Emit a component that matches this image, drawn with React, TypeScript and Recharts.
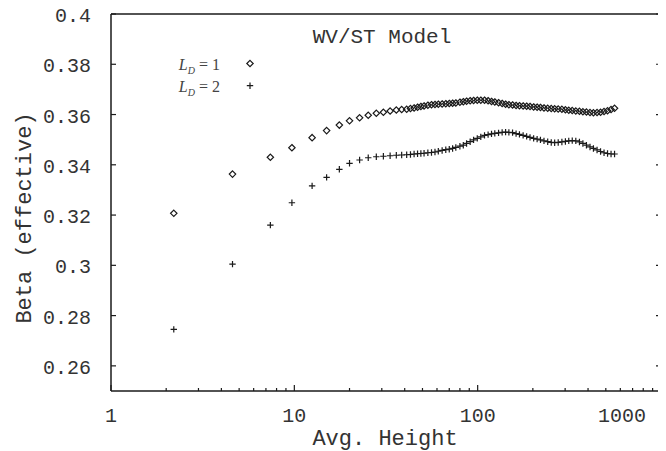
import React from 'react';
import { ScatterChart, Scatter, XAxis, YAxis } from 'recharts';

// avg. height values (x)
const heights = [
  2.2, 4.6, 7.4, 9.7, 12.5, 15, 17.6, 20, 22.7, 25.3, 28, 30.6, 33.3, 36, 38.5,
  41, 43, 45, 47, 49, 51, 53.5, 56, 58.5, 61, 64, 67, 70, 73, 76, 80, 83.5, 87, 91, 95,
  99.5, 104, 109, 114, 119, 124, 130, 136, 142, 148, 155, 162, 169, 177, 185, 193, 202,
  211, 220, 230, 241, 252, 263, 275, 288, 301, 314, 328, 343, 359, 375, 392, 410, 428,
  448, 468, 489, 511, 534, 558,
];

// L_D = 1 (diamonds)
const betaLd1 = [
  0.3207, 0.3363, 0.343, 0.3468, 0.3508, 0.3536, 0.3558, 0.3575, 0.3587, 0.3597, 0.3605,
  0.3609, 0.3614, 0.3618, 0.362,
  0.3621, 0.3624, 0.3626, 0.3629, 0.3632, 0.3634, 0.3637, 0.3639, 0.364, 0.3641,
  0.3642, 0.3643, 0.3644, 0.3645, 0.3646, 0.3649, 0.3651, 0.3653, 0.3655, 0.3656,
  0.3657, 0.3657, 0.3657, 0.3655, 0.3652, 0.365, 0.3647, 0.3644, 0.3641, 0.3639,
  0.3638, 0.3636, 0.3635, 0.3634, 0.3633, 0.3632, 0.363, 0.3629, 0.3628, 0.3626,
  0.3625, 0.3624, 0.3623, 0.3622, 0.3621, 0.3619, 0.3617, 0.3616, 0.3614, 0.3613,
  0.3611, 0.361, 0.3608, 0.3607, 0.3608, 0.3609, 0.3612, 0.3615, 0.362, 0.3625,
];

// L_D = 2 (pluses)
const betaLd2 = [
  0.2745, 0.3005, 0.316, 0.3249, 0.3316, 0.335, 0.3382, 0.3406, 0.3419, 0.3428, 0.3432,
  0.3434, 0.3436, 0.3438, 0.3439,
  0.344, 0.3441, 0.3443, 0.3444, 0.3445, 0.3446, 0.3448, 0.3449, 0.3451, 0.3454,
  0.3457, 0.346, 0.3462, 0.3465, 0.3469, 0.3474, 0.3478, 0.3485, 0.3492, 0.3499,
  0.3505, 0.3511, 0.3517, 0.352, 0.3523, 0.3525, 0.3527, 0.3529, 0.353, 0.3529,
  0.3528, 0.3524, 0.3521, 0.3517, 0.3513, 0.3509, 0.3505, 0.3502, 0.3499, 0.3495,
  0.3492, 0.3489, 0.3488, 0.3489, 0.3491, 0.3493, 0.3495, 0.3496, 0.3495, 0.3491,
  0.3485, 0.3478, 0.3471, 0.3465, 0.3459, 0.3453, 0.3448, 0.3445, 0.3443, 0.3443,
];

const xTicks = [
  1, 2, 3, 4, 5, 6, 7, 8, 9,
  10, 20, 30, 40, 50, 60, 70, 80, 90,
  100, 200, 300, 400, 500, 600, 700, 800, 900, 1000,
];
const xLabels = [1, 10, 100, 1000];
const yTicks = [0.26, 0.28, 0.3, 0.32, 0.34, 0.36, 0.38, 0.4];

const ld1Data = heights.map((h, i) => ({ h, beta: betaLd1[i] }));
const ld2Data = heights.map((h, i) => ({ h, beta: betaLd2[i] }));

const mono = '"Liberation Mono", "DejaVu Sans Mono", monospace';
const serif = '"Liberation Serif", "DejaVu Serif", serif';
const ink = '#1a1a1a';
const textInk = '#333';

const Diamond = ({ cx, cy }: any) => (
  <path
    d={`M${cx},${cy - 3.2}L${cx + 3.2},${cy}L${cx},${cy + 3.2}L${cx - 3.2},${cy}Z`}
    fill="none"
    stroke={ink}
    strokeWidth={1.2}
  />
);

const Plus = ({ cx, cy }: any) => (
  <path
    d={`M${cx - 3.2},${cy}H${cx + 3.2}M${cx},${cy - 3.2}V${cy + 3.2}`}
    stroke={ink}
    strokeWidth={1.2}
  />
);

const fmtY = (v: number) => String(parseFloat(v.toFixed(2)));

function BottomTick({ x, y, payload }: any) {
  const v = payload.value;
  const major = xLabels.includes(v);
  // the 1000 label sits left of its tick in the original
  const shift = v === 1000 ? -39 : 0;
  return (
    <g>
      <line x1={x} y1={y} x2={x} y2={y - (major ? 6 : 3)} stroke={ink} strokeWidth={1.2} />
      {major && (
        <text x={x + shift} y={y + 31} textAnchor="middle" fontFamily={mono} fontSize={20} fill={textInk}>
          {v}
        </text>
      )}
    </g>
  );
}

function TopTick({ x, y, payload }: any) {
  const major = xLabels.includes(payload.value);
  return <line x1={x} y1={y} x2={x} y2={y + (major ? 6 : 3)} stroke={ink} strokeWidth={1.2} />;
}

function LeftTick({ x, y, payload }: any) {
  return (
    <g>
      <line x1={x} y1={y} x2={x + 5} y2={y} stroke={ink} strokeWidth={1.2} />
      <text x={x - 20} y={y + 8} textAnchor="end" fontFamily={mono} fontSize={20} fill={textInk}>
        {fmtY(payload.value)}
      </text>
    </g>
  );
}

function RightTick({ x, y }: any) {
  return <line x1={x} y1={y} x2={x - 5} y2={y} stroke={ink} strokeWidth={1.2} />;
}

function LegendEntry({ y, n, children }: any) {
  return (
    <g>
      <text x={212} y={y} textAnchor="end" fontFamily={serif} fontSize={16} fill="#444">
        <tspan fontStyle="italic">L</tspan>
        <tspan fontStyle="italic" fontSize={10} dy={4}>D</tspan>
        <tspan dy={-4}> = {n}</tspan>
      </text>
      {children}
    </g>
  );
}

export default function App() {
  const W = 658;
  const H = 443;
  return (
    <div style={{ position: 'relative', width: W, height: H, background: '#fff' }}>
      <style>{'.recharts-surface, .recharts-wrapper { overflow: visible !important; }'}</style>
      <ScatterChart width={W} height={H} margin={{ top: 0, right: 0, bottom: 0, left: 0 }}>
        <XAxis
          xAxisId="b"
          dataKey="h"
          type="number"
          scale="log"
          domain={[1, 1000]}
          allowDataOverflow
          ticks={xTicks}
          interval={0}
          height={60}
          tickSize={0}
          tickMargin={0}
          tickLine={false}
          axisLine={{ stroke: ink, strokeWidth: 1.5 }}
          tick={(p: any) => <BottomTick {...p} />}
        />
        <XAxis
          xAxisId="t"
          orientation="top"
          type="number"
          scale="log"
          domain={[1, 1000]}
          allowDataOverflow
          ticks={xTicks}
          interval={0}
          height={6}
          tickSize={0}
          tickMargin={0}
          tickLine={false}
          axisLine={{ stroke: ink, strokeWidth: 1.5 }}
          tick={(p: any) => <TopTick {...p} />}
        />
        <YAxis
          yAxisId="l"
          dataKey="beta"
          type="number"
          domain={[0.25, 0.4]}
          allowDataOverflow
          ticks={yTicks}
          interval={0}
          width={103}
          tickSize={0}
          tickMargin={0}
          tickLine={false}
          axisLine={{ stroke: ink, strokeWidth: 1.5 }}
          tick={(p: any) => <LeftTick {...p} />}
        />
        <YAxis
          yAxisId="r"
          orientation="right"
          type="number"
          domain={[0.25, 0.4]}
          allowDataOverflow
          ticks={yTicks}
          interval={0}
          width={5}
          tickSize={0}
          tickMargin={0}
          tickLine={false}
          axisLine={{ stroke: ink, strokeWidth: 1.5 }}
          tick={(p: any) => <RightTick {...p} />}
        />
        <Scatter
          name="L_D=1"
          data={ld1Data}
          xAxisId="b"
          yAxisId="l"
          shape={(p: any) => <Diamond {...p} />}
          isAnimationActive={false}
        />
        <Scatter
          name="L_D=2"
          data={ld2Data}
          xAxisId="b"
          yAxisId="l"
          shape={(p: any) => <Plus {...p} />}
          isAnimationActive={false}
        />
      </ScatterChart>
      <svg
        width={W}
        height={H}
        style={{ position: 'absolute', left: 0, top: 0, pointerEvents: 'none' }}
      >
        <text x={374} y={35} textAnchor="middle" fontFamily={mono} fontSize={21} fill={textInk}>
          WV/ST Model
        </text>
        <LegendEntry y={62} n={1}>
          <Diamond cx={242} cy={55.5} />
        </LegendEntry>
        <LegendEntry y={84} n={2}>
          <Plus cx={242} cy={77.7} />
        </LegendEntry>
        <text x={377} y={437} textAnchor="middle" fontFamily={mono} fontSize={22} fill={textInk}>
          Avg. Height
        </text>
        <text
          x={17}
          y={210}
          transform="rotate(-90 17 210)"
          textAnchor="middle"
          dominantBaseline="central"
          fontFamily={mono}
          fontSize={22}
          fill={textInk}
        >
          Beta (effective)
        </text>
      </svg>
    </div>
  );
}
